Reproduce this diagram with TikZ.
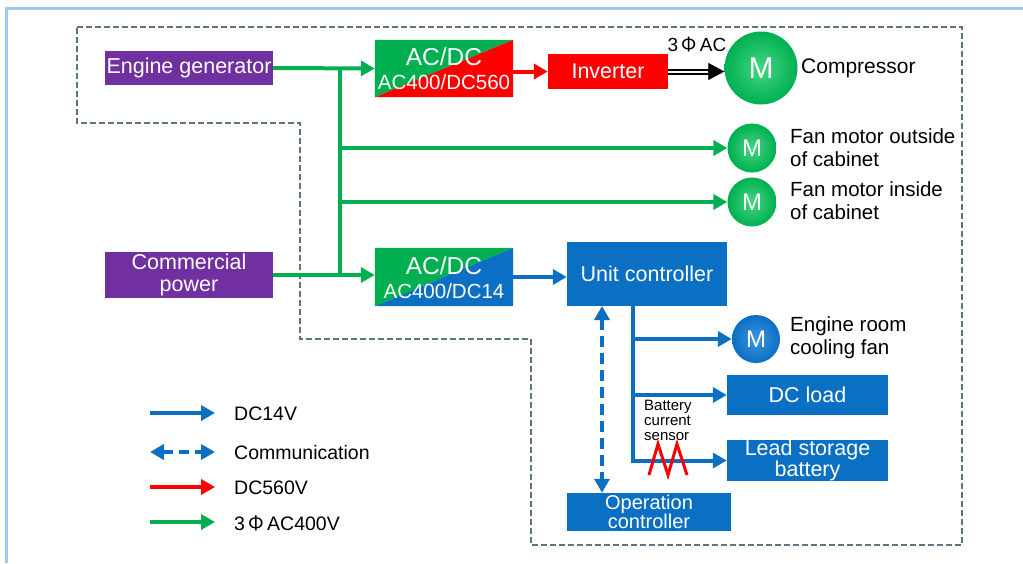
\documentclass[tikz,border=0pt]{standalone}
\usepackage{fontspec}
\setmainfont{Liberation Sans}
\newfontfamily\cjk{Noto Sans CJK JP}
\usetikzlibrary{arrows.meta,backgrounds,calc}
\definecolor{cgreen}{HTML}{00B050}
\definecolor{cgreenl}{HTML}{45D585}
\definecolor{cred}{HTML}{FF0000}
\definecolor{cblue}{HTML}{0B6FC4}
\definecolor{cbluel}{HTML}{3D95E0}
\definecolor{cpurple}{HTML}{7030A0}
\definecolor{cframe}{HTML}{9DC9F5}
\definecolor{cdash}{HTML}{5E7483}
\newcommand{\fs}[1]{\fontsize{#1}{#1}\selectfont}
\begin{document}
\begin{tikzpicture}[x=1pt,y=-1pt,
  box/.style={rectangle, inner sep=0pt, text=white, align=center, font=\fs{21.5}},
  pbox/.style={box, fill=cpurple},
  bbox/.style={box, fill=cblue},
  rbox/.style={box, fill=cred},
  sbox/.style={box},
  gmotor/.style={circle, inner sep=0pt, inner color=cgreenl, outer color=cgreen, text=white},
  bmotor/.style={circle, inner sep=0pt, inner color=cbluel, outer color=cblue, text=white},
  lbl/.style={inner sep=0pt, align=left, anchor=west, font=\fs{20}},
  gline/.style={draw=cgreen, line width=4pt, -{Triangle[length=14pt,width=15pt]}},
  gplain/.style={draw=cgreen, line width=4pt},
  bline/.style={draw=cblue, line width=4pt, -{Triangle[length=14pt,width=15pt]}},
  bplain/.style={draw=cblue, line width=4pt},
  rline/.style={draw=cred, line width=4pt, -{Triangle[length=14pt,width=15pt]}},
  comline/.style={draw=cblue, line width=4pt, dash pattern=on 11pt off 6pt, {Triangle[length=14pt,width=15pt]}-{Triangle[length=14pt,width=15pt]}},
  boundary/.style={draw=cdash, line width=1.3pt, dash pattern=on 6pt off 3pt}
]
\useasboundingbox (0,0) rectangle (1023,563);
% outer light-blue frame
\draw[cframe, line width=3pt] (1023,8) -- (6,8) -- (6,563);
% dashed boundary
\draw[boundary] (77,27) -- (962,27) -- (962,545) -- (531,545) -- (531,339) -- (300,339) -- (300,123) -- (77,123) -- cycle;

% boxes
\node[pbox, minimum width=168pt, minimum height=34pt] (eg) at (189,68) {Engine generator};
\node[pbox, minimum width=168pt, minimum height=46pt] (cp) at (189,275) {Commercial\\[1pt]power};
\node[sbox, minimum width=138pt, minimum height=57pt] (ad1) at (444,68.5) {};
\node[sbox, minimum width=138pt, minimum height=58pt] (ad2) at (444,277) {};
\begin{scope}[on background layer]
  \fill[cgreen] (ad1.south west) -- (ad1.north west) -- (ad1.north east) -- cycle;
  \fill[cred] (ad1.south west) -- (ad1.south east) -- (ad1.north east) -- cycle;
  \fill[cgreen] (ad2.south west) -- (ad2.north west) -- (ad2.north east) -- cycle;
  \fill[cblue] (ad2.south west) -- (ad2.south east) -- (ad2.north east) -- cycle;
\end{scope}
\node[text=white, inner sep=0pt, font=\fs{24.5}] (ad1t) at (444,57) {AC/DC};
\node[text=white, inner sep=0pt, font=\fs{20.5}] (ad1b) at (444,82) {AC400/DC560};
\node[text=white, inner sep=0pt, font=\fs{24.5}] (ad2t) at (444,266) {AC/DC};
\node[text=white, inner sep=0pt, font=\fs{20.5}] (ad2b) at (444,291) {AC400/DC14};

\node[rbox, minimum width=120pt, minimum height=35pt] (inv) at (608,71.5) {Inverter};
\node[bbox, minimum width=160pt, minimum height=64pt] (uc) at (647,274) {Unit controller};
\node[bbox, minimum width=161pt, minimum height=40pt] (dcl) at (807.5,395) {DC load};
\node[bbox, minimum width=161pt, minimum height=41pt] (bat) at (807.5,460.5) {Lead storage\\[0pt]battery};
\node[bbox, minimum width=164pt, minimum height=38pt, font=\fs{20}] (oc) at (649,512) {Operation\\[-1pt]controller};

% motors
\node[gmotor, minimum size=73pt, font=\fs{30}] (comp) at (761,68) {M};
\node[gmotor, minimum size=49pt, font=\fs{24}] (fan1) at (752,148) {M};
\node[gmotor, minimum size=49pt, font=\fs{24}] (fan2) at (752,202) {M};
\node[bmotor, minimum size=48pt, font=\fs{24}] (cool) at (756,339) {M};

% labels
\node[lbl, font=\fs{21}] (compl) at (801,68) {Compressor};
\node[lbl, font=\fontsize{20.5}{23}\selectfont] (fan1l) at (790,148) {Fan motor outside\\of cabinet};
\node[lbl, font=\fontsize{20.5}{23}\selectfont] (fan2l) at (790,201) {Fan motor inside\\of cabinet};
\node[lbl, font=\fontsize{20.5}{23}\selectfont] (cooll) at (790,338) {Engine room\\cooling fan};
\node[inner sep=0pt, font=\fs{19}] (phil) at (697,45) {3\,{\cjk Φ}\,AC};
\node[inner sep=0pt, align=left, anchor=north west, font=\fontsize{15}{15}\selectfont] (bcs) at (644,400) {Battery\\current\\sensor};

% green connectors
\coordinate (j1) at (340,68);
\coordinate (j2) at (340,276);
\coordinate (jf1) at (340,148);
\coordinate (jf2) at (340,202);
\draw[gplain] (j1) -- (j2);
\draw[gline] (eg.east) -- (ad1.west);
\draw[gline] (cp.east) -- (cp.east -| ad2.west);
\draw[gline] (jf1) -- (fan1.west);
\draw[gline] (jf2) -- (fan2.west);

% red connector
\draw[rline] (ad1.east |- inv.west) -- (inv.west);

% double 3-phase connector
\draw[black, line width=6pt, shorten >=14pt] (inv.east) -- (inv.east -| comp.west);
\draw[white, line width=2pt, shorten >=13pt] (inv.east) -- (inv.east -| comp.west);
\coordinate (tipbase) at ($(inv.east -| comp.west)+(-16,0)$);
\draw[black, line width=0.5pt, -{Triangle[length=16pt,width=17pt]}] (tipbase) -- (inv.east -| comp.west);

% blue connectors
\draw[bline] (ad2.east) -- (ad2.east -| uc.west);
\coordinate (bt) at (633,306);
\coordinate (b1) at (633,339);
\coordinate (b2) at (633,395);
\coordinate (b3) at (633,460.5);
\draw[bplain] (bt) -- (633,462.5);
\draw[bline] ($(b1)+(-2,0)$) -- (cool.west);
\draw[bline] ($(b2)+(-2,0)$) -- (dcl.west);
\draw[bline] ($(b3)+(-2,0)$) -- (bat.west);
\coordinate (ct) at (602,306);
\draw[comline] (ct) -- (ct |- oc.north);

% sensor zigzag
\draw[cred, line width=3pt, line join=miter] (649,475) -- (658,444) -- (668,475) -- (677,444) -- (687,475);

% legend
\coordinate (l1a) at (150,413); \coordinate (l1b) at (215,413);
\coordinate (l2a) at (150,452); \coordinate (l2b) at (215,452);
\coordinate (l3a) at (150,487); \coordinate (l3b) at (215,487);
\coordinate (l4a) at (150,522); \coordinate (l4b) at (215,522);
\draw[bline] (l1a) -- (l1b);
\draw[comline, dash pattern=on 10pt off 6pt] (l2a) -- (l2b);
\draw[rline] (l3a) -- (l3b);
\draw[gline] (l4a) -- (l4b);
\node[lbl, font=\fs{19.5}] (lt1) at (234,414) {DC14V};
\node[lbl, font=\fs{19.5}] (lt2) at (234,453) {Communication};
\node[lbl, font=\fs{19.5}] (lt3) at (234,488) {DC560V};
\node[lbl, font=\fs{19.5}] (lt4) at (234,523) {3\,{\cjk Φ}\,AC400V};
\end{tikzpicture}
\end{document}
